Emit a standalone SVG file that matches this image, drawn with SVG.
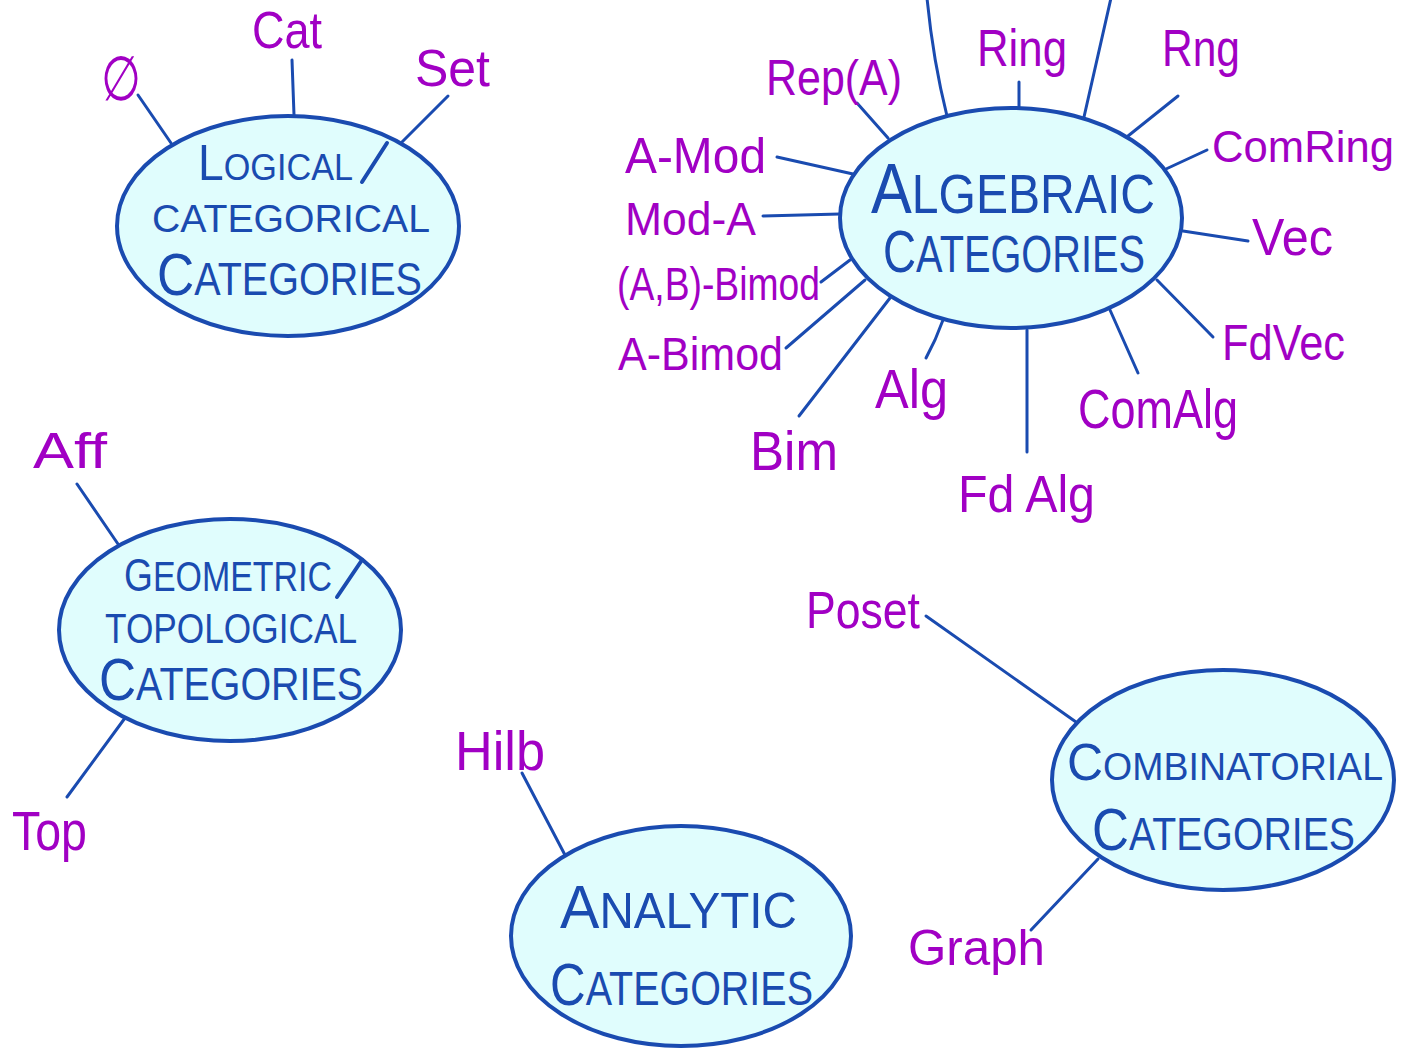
<svg xmlns="http://www.w3.org/2000/svg" width="1404" height="1048" viewBox="0 0 1404 1048">
  <style>
    .bubble { fill: #e0fdfd; stroke: #1a4bb0; stroke-width: 4; }
    .title { font-family: "Liberation Sans", "DejaVu Sans", sans-serif; fill: #1a4bb0; }
    .lbl { font-family: "Liberation Sans", "DejaVu Sans", sans-serif; fill: #a100c4; }
    .edge { stroke: #1a4bb0; stroke-width: 3; stroke-linecap: round; fill: none; }
    .slash { stroke: #1a4bb0; stroke-width: 4; stroke-linecap: round; }
  </style>
  <rect width="1404" height="1048" fill="#ffffff"/>

  <!-- spokes from each category bubble to its examples -->
  <g id="connectors">
    <!-- logical / categorical -->
    <line class="edge" x1="138" y1="95" x2="171" y2="143"/>
    <line class="edge" x1="292" y1="60" x2="294" y2="115"/>
    <line class="edge" x1="448" y1="96" x2="402" y2="142"/>
    <!-- algebraic -->
    <path class="edge" d="M927,-2 Q933,60 947,116"/>
    <line class="edge" x1="1019" y1="82" x2="1019" y2="108"/>
    <line class="edge" x1="1111" y1="-2" x2="1084" y2="117"/>
    <line class="edge" x1="1178" y1="96" x2="1128" y2="136"/>
    <line class="edge" x1="1207" y1="150" x2="1166" y2="169"/>
    <line class="edge" x1="1248" y1="241" x2="1183" y2="231"/>
    <line class="edge" x1="1213" y1="337" x2="1157" y2="280"/>
    <line class="edge" x1="1138" y1="373" x2="1110" y2="310"/>
    <line class="edge" x1="1027" y1="452" x2="1027" y2="330"/>
    <path class="edge" d="M926,358 L935,340 L943,320"/>
    <line class="edge" x1="799" y1="416" x2="890" y2="298"/>
    <line class="edge" x1="786" y1="348" x2="865" y2="280"/>
    <line class="edge" x1="821" y1="282" x2="850" y2="260"/>
    <line class="edge" x1="763" y1="216" x2="840" y2="214"/>
    <line class="edge" x1="777" y1="157" x2="853" y2="174"/>
    <line class="edge" x1="857" y1="103" x2="888" y2="138"/>
    <!-- geometric / topological -->
    <line class="edge" x1="77" y1="484" x2="118" y2="544"/>
    <line class="edge" x1="67" y1="797" x2="125" y2="718"/>
    <!-- analytic -->
    <line class="edge" x1="522" y1="773" x2="565" y2="855"/>
    <!-- combinatorial -->
    <line class="edge" x1="926" y1="616" x2="1076" y2="722"/>
    <line class="edge" x1="1031" y1="930" x2="1098" y2="859"/>
  </g>

  <g id="logical">
    <ellipse class="bubble" cx="288" cy="226" rx="171" ry="110"/>
    <text class="title" x="198" y="180" font-size="37" textLength="155" lengthAdjust="spacingAndGlyphs"><tspan font-size="50">L</tspan>OGICAL</text>
    <line class="slash" x1="362" y1="182" x2="387" y2="143"/>
    <text class="title" x="152" y="232" font-size="38" textLength="278" lengthAdjust="spacingAndGlyphs">CATEGORICAL</text>
    <text class="title" x="157" y="295" font-size="46" textLength="265" lengthAdjust="spacingAndGlyphs"><tspan font-size="60">C</tspan>ATEGORIES</text>
  </g>

  <g id="algebraic">
    <ellipse class="bubble" cx="1011" cy="218" rx="171" ry="110"/>
    <text class="title" x="871" y="213" font-size="55" textLength="284" lengthAdjust="spacingAndGlyphs"><tspan font-size="70">A</tspan>LGEBRAIC</text>
    <text class="title" x="883" y="272" font-size="52" textLength="262" lengthAdjust="spacingAndGlyphs"><tspan font-size="60">C</tspan>ATEGORIES</text>
  </g>

  <g id="geometric">
    <ellipse class="bubble" cx="230" cy="630" rx="171" ry="111"/>
    <text class="title" x="124" y="591" font-size="42" textLength="208" lengthAdjust="spacingAndGlyphs"><tspan font-size="46">G</tspan>EOMETRIC</text>
    <line class="slash" x1="337" y1="597" x2="362" y2="560"/>
    <text class="title" x="105" y="643" font-size="42" textLength="252" lengthAdjust="spacingAndGlyphs">TOPOLOGICAL</text>
    <text class="title" x="99" y="700" font-size="46" textLength="264" lengthAdjust="spacingAndGlyphs"><tspan font-size="60">C</tspan>ATEGORIES</text>
  </g>

  <g id="analytic">
    <ellipse class="bubble" cx="681" cy="936" rx="170" ry="110"/>
    <text class="title" x="560" y="928" font-size="50" textLength="237" lengthAdjust="spacingAndGlyphs"><tspan font-size="62">A</tspan>NALYTIC</text>
    <text class="title" x="550" y="1005" font-size="48" textLength="263" lengthAdjust="spacingAndGlyphs"><tspan font-size="60">C</tspan>ATEGORIES</text>
  </g>

  <g id="combinatorial">
    <ellipse class="bubble" cx="1223" cy="780" rx="171" ry="110"/>
    <text class="title" x="1067" y="780" font-size="39" textLength="316" lengthAdjust="spacingAndGlyphs"><tspan font-size="52">C</tspan>OMBINATORIAL</text>
    <text class="title" x="1092" y="850" font-size="46" textLength="263" lengthAdjust="spacingAndGlyphs"><tspan font-size="60">C</tspan>ATEGORIES</text>
  </g>

  <!-- example categories -->
  <g id="lbl-empty"><text class="lbl" x="101" y="100" font-size="62" textLength="40" lengthAdjust="spacingAndGlyphs">∅</text></g>
  <g id="lbl-cat"><text class="lbl" x="252" y="48" font-size="52" textLength="70" lengthAdjust="spacingAndGlyphs">Cat</text></g>
  <g id="lbl-set"><text class="lbl" x="415" y="86" font-size="52" textLength="75" lengthAdjust="spacingAndGlyphs">Set</text></g>

  <g id="lbl-repa"><text class="lbl" x="766" y="95" font-size="50" textLength="136" lengthAdjust="spacingAndGlyphs">Rep(A)</text></g>
  <g id="lbl-ring"><text class="lbl" x="977" y="66" font-size="52" textLength="90" lengthAdjust="spacingAndGlyphs">Ring</text></g>
  <g id="lbl-rng"><text class="lbl" x="1162" y="66" font-size="52" textLength="78" lengthAdjust="spacingAndGlyphs">Rng</text></g>
  <g id="lbl-comring"><text class="lbl" x="1212" y="162" font-size="44" textLength="182" lengthAdjust="spacingAndGlyphs">ComRing</text></g>
  <g id="lbl-vec"><text class="lbl" x="1252" y="255" font-size="52" textLength="81" lengthAdjust="spacingAndGlyphs">Vec</text></g>
  <g id="lbl-fdvec"><text class="lbl" x="1222" y="360" font-size="50" textLength="123" lengthAdjust="spacingAndGlyphs">FdVec</text></g>
  <g id="lbl-comalg"><text class="lbl" x="1078" y="428" font-size="56" textLength="160" lengthAdjust="spacingAndGlyphs">ComAlg</text></g>
  <g id="lbl-fdalg"><text class="lbl" x="958" y="512" font-size="52" textLength="137" lengthAdjust="spacingAndGlyphs">Fd Alg</text></g>
  <g id="lbl-alg"><text class="lbl" x="875" y="408" font-size="56" textLength="73" lengthAdjust="spacingAndGlyphs">Alg</text></g>
  <g id="lbl-bim"><text class="lbl" x="750" y="470" font-size="55" textLength="88" lengthAdjust="spacingAndGlyphs">Bim</text></g>
  <g id="lbl-abimod"><text class="lbl" x="618" y="370" font-size="46" textLength="165" lengthAdjust="spacingAndGlyphs">A-Bimod</text></g>
  <g id="lbl-abbimod"><text class="lbl" x="617" y="300" font-size="46" textLength="203" lengthAdjust="spacingAndGlyphs">(A,B)-Bimod</text></g>
  <g id="lbl-moda"><text class="lbl" x="625" y="235" font-size="46" textLength="131" lengthAdjust="spacingAndGlyphs">Mod-A</text></g>
  <g id="lbl-amod"><text class="lbl" x="625" y="173" font-size="50" textLength="141" lengthAdjust="spacingAndGlyphs">A-Mod</text></g>

  <g id="lbl-aff"><text class="lbl" x="33" y="468" font-size="50" textLength="74" lengthAdjust="spacingAndGlyphs">Aff</text></g>
  <g id="lbl-top"><text class="lbl" x="12" y="850" font-size="55" textLength="75" lengthAdjust="spacingAndGlyphs">Top</text></g>
  <g id="lbl-hilb"><text class="lbl" x="455" y="770" font-size="55" textLength="90" lengthAdjust="spacingAndGlyphs">Hilb</text></g>
  <g id="lbl-poset"><text class="lbl" x="806" y="628" font-size="52" textLength="114" lengthAdjust="spacingAndGlyphs">Poset</text></g>
  <g id="lbl-graph"><text class="lbl" x="908" y="965" font-size="50" textLength="137" lengthAdjust="spacingAndGlyphs">Graph</text></g>
</svg>
